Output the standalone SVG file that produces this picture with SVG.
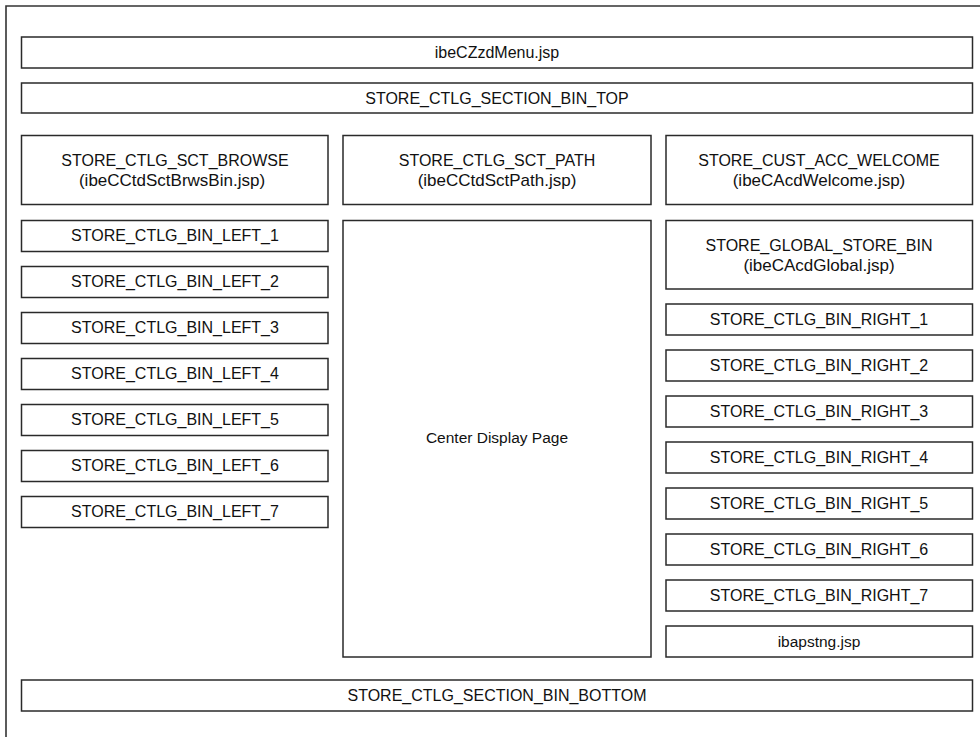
<svg xmlns="http://www.w3.org/2000/svg" width="980" height="737" viewBox="0 0 980 737">
<style>
.b{fill:#fff;stroke:#2a2a2a;stroke-width:1.5}
.t{font-family:"Liberation Sans",Arial,sans-serif;font-size:16px;fill:#111;text-anchor:middle}
.s{font-size:15.5px}
.p{font-size:17px}
</style>
<rect width="980" height="737" fill="#fff"/>
<path d="M6,737 V6 H980" fill="none" stroke="#333" stroke-width="1.6"/>
<g id="connectors"/>
<g id="menu"><rect class="b" x="21.5" y="37" width="951" height="31"/><text class="t" x="497" y="58">ibeCZzdMenu.jsp</text></g>
<g id="bin-top"><rect class="b" x="21.5" y="83" width="951" height="30"/><text class="t" x="497" y="104">STORE_CTLG_SECTION_BIN_TOP</text></g>
<g id="sct-browse"><rect class="b" x="21.5" y="135.5" width="306.5" height="69"/><text class="t" x="175" y="166">STORE_CTLG_SCT_BROWSE</text><text class="t p" x="172" y="185.5">(ibeCCtdSctBrwsBin.jsp)</text></g>
<g id="sct-path"><rect class="b" x="343" y="135.5" width="308" height="69"/><text class="t" x="497" y="166">STORE_CTLG_SCT_PATH</text><text class="t p" x="497" y="185.5">(ibeCCtdSctPath.jsp)</text></g>
<g id="welcome"><rect class="b" x="666" y="135.5" width="306.5" height="69"/><text class="t" x="819" y="166">STORE_CUST_ACC_WELCOME</text><text class="t p" x="819" y="185.5">(ibeCAcdWelcome.jsp)</text></g>
<g id="left-1"><rect class="b" x="21.5" y="220.5" width="306.5" height="31"/><text class="t" x="175" y="240.5">STORE_CTLG_BIN_LEFT_1</text></g>
<g id="left-2"><rect class="b" x="21.5" y="266.5" width="306.5" height="31"/><text class="t" x="175" y="286.5">STORE_CTLG_BIN_LEFT_2</text></g>
<g id="left-3"><rect class="b" x="21.5" y="312.5" width="306.5" height="31"/><text class="t" x="175" y="332.5">STORE_CTLG_BIN_LEFT_3</text></g>
<g id="left-4"><rect class="b" x="21.5" y="358.5" width="306.5" height="31"/><text class="t" x="175" y="378.5">STORE_CTLG_BIN_LEFT_4</text></g>
<g id="left-5"><rect class="b" x="21.5" y="404.5" width="306.5" height="31"/><text class="t" x="175" y="424.5">STORE_CTLG_BIN_LEFT_5</text></g>
<g id="left-6"><rect class="b" x="21.5" y="450.5" width="306.5" height="31"/><text class="t" x="175" y="470.5">STORE_CTLG_BIN_LEFT_6</text></g>
<g id="left-7"><rect class="b" x="21.5" y="496.5" width="306.5" height="31"/><text class="t" x="175" y="516.5">STORE_CTLG_BIN_LEFT_7</text></g>
<g id="center"><rect class="b" x="343" y="220.5" width="308" height="436.5"/><text class="t s" x="497" y="443">Center Display Page</text></g>
<g id="global"><rect class="b" x="666" y="220.5" width="306.5" height="68.5"/><text class="t" x="819" y="251">STORE_GLOBAL_STORE_BIN</text><text class="t p" x="819" y="270.5">(ibeCAcdGlobal.jsp)</text></g>
<g id="right-1"><rect class="b" x="666" y="304" width="306.5" height="31"/><text class="t" x="819" y="324.5">STORE_CTLG_BIN_RIGHT_1</text></g>
<g id="right-2"><rect class="b" x="666" y="350" width="306.5" height="31"/><text class="t" x="819" y="370.5">STORE_CTLG_BIN_RIGHT_2</text></g>
<g id="right-3"><rect class="b" x="666" y="396" width="306.5" height="31"/><text class="t" x="819" y="416.5">STORE_CTLG_BIN_RIGHT_3</text></g>
<g id="right-4"><rect class="b" x="666" y="442" width="306.5" height="31"/><text class="t" x="819" y="462.5">STORE_CTLG_BIN_RIGHT_4</text></g>
<g id="right-5"><rect class="b" x="666" y="488" width="306.5" height="31"/><text class="t" x="819" y="508.5">STORE_CTLG_BIN_RIGHT_5</text></g>
<g id="right-6"><rect class="b" x="666" y="534" width="306.5" height="31"/><text class="t" x="819" y="554.5">STORE_CTLG_BIN_RIGHT_6</text></g>
<g id="right-7"><rect class="b" x="666" y="580" width="306.5" height="31"/><text class="t" x="819" y="600.5">STORE_CTLG_BIN_RIGHT_7</text></g>
<g id="ibapstng"><rect class="b" x="666" y="626" width="306.5" height="31"/><text class="t s" x="819" y="646.5">ibapstng.jsp</text></g>
<g id="bin-bottom"><rect class="b" x="21.5" y="680" width="951" height="31"/><text class="t" x="497" y="700.5">STORE_CTLG_SECTION_BIN_BOTTOM</text></g>
</svg>
